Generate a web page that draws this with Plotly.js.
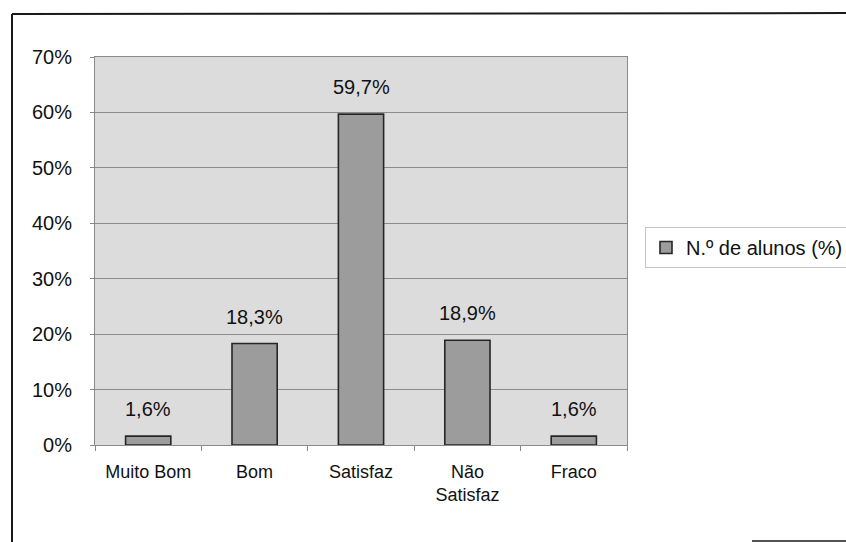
<!DOCTYPE html>
<html>
<head>
<meta charset="utf-8">
<script src="https://cdn.plot.ly/plotly-3.0.1.min.js"></script>
<style>
  html, body { margin: 0; padding: 0; background: #ffffff; }
  #chart { width: 846px; height: 542px; }
</style>
</head>
<body>
<div id="chart"></div>
<script>
// Classificação dos alunos
const categories = ['Muito Bom', 'Bom', 'Satisfaz', 'Não<br>Satisfaz', 'Fraco'];
const percentages = [1.6, 18.3, 59.7, 18.9, 1.6];
const seriesName = 'N.º de alunos (%)';
const yTicks = [0, 10, 20, 30, 40, 50, 60, 70];

const fmt = v => v.toFixed(1).replace('.', ',') + '%';

const trace = {
  type: 'bar',
  x: categories,
  y: percentages,
  name: seriesName,
  showlegend: true,
  marker: {
    color: '#9c9c9c',
    line: { color: '#262626', width: 1.6 }
  },
  hoverinfo: 'skip'
};

// value labels above each bar
const labels = categories.map((c, i) => ({
  x: c,
  y: percentages[i],
  xref: 'x',
  yref: 'y',
  text: fmt(percentages[i]),
  showarrow: false,
  yanchor: 'middle',
  yshift: 27,
  font: { size: 20, color: '#111111' }
}));

const layout = {
  width: 846,
  height: 542,
  margin: { l: 95, r: 219, t: 57, b: 97, autoexpand: false },
  paper_bgcolor: '#ffffff',
  plot_bgcolor: '#dcdcdc',
  font: { family: 'Liberation Sans, Arial, sans-serif', size: 19, color: '#111111' },
  bargap: 0.575,
  xaxis: {
    type: 'category',
    showgrid: false,
    tickson: 'boundaries',
    ticks: 'outside',
    ticklen: 5,
    tickcolor: '#888888',
    ticklabelstandoff: 10,
    showline: true,
    linecolor: '#8a8a8a',
    linewidth: 1,
    mirror: true,
    tickfont: { size: 18 },
    fixedrange: true
  },
  yaxis: {
    range: [0, 70],
    tickvals: yTicks,
    ticktext: yTicks.map(v => v + '%'),
    showgrid: true,
    gridcolor: '#8c8c8c',
    gridwidth: 1,
    zeroline: false,
    ticks: 'outside',
    ticklen: 4,
    tickcolor: '#888888',
    ticklabelstandoff: 14,
    showline: true,
    linecolor: '#8a8a8a',
    linewidth: 1,
    mirror: true,
    tickfont: { size: 20 },
    fixedrange: true
  },
  legend: {
    x: (645 - 95) / 532,
    xanchor: 'left',
    y: (445 - 227) / 388,
    yanchor: 'top',
    bgcolor: '#ffffff',
    bordercolor: '#c4c4c4',
    borderwidth: 1,
    font: { size: 20, color: '#111111' },
    itemwidth: 30
  },
  annotations: labels,
  shapes: [
    // outer frame of the chart area
    { type: 'line', xref: 'paper', yref: 'paper', layer: 'above',
      x0: -83 / 532, x1: 1.5, y0: (445 - 14) / 388, y1: (445 - 13) / 388,
      line: { color: '#1a1a1a', width: 2 } },
    { type: 'line', xref: 'paper', yref: 'paper', layer: 'above',
      x0: -83 / 532, x1: -83 / 532, y0: (445 - 14) / 388, y1: -0.3,
      line: { color: '#1a1a1a', width: 2 } },
    { type: 'line', xref: 'paper', yref: 'paper', layer: 'above',
      x0: (752 - 95) / 532, x1: 1.5, y0: (445 - 541) / 388, y1: (445 - 541) / 388,
      line: { color: '#1a1a1a', width: 1.5 } }
  ]
};

Plotly.newPlot('chart', [trace], layout, { staticPlot: true, displayModeBar: false });
</script>
</body>
</html>
